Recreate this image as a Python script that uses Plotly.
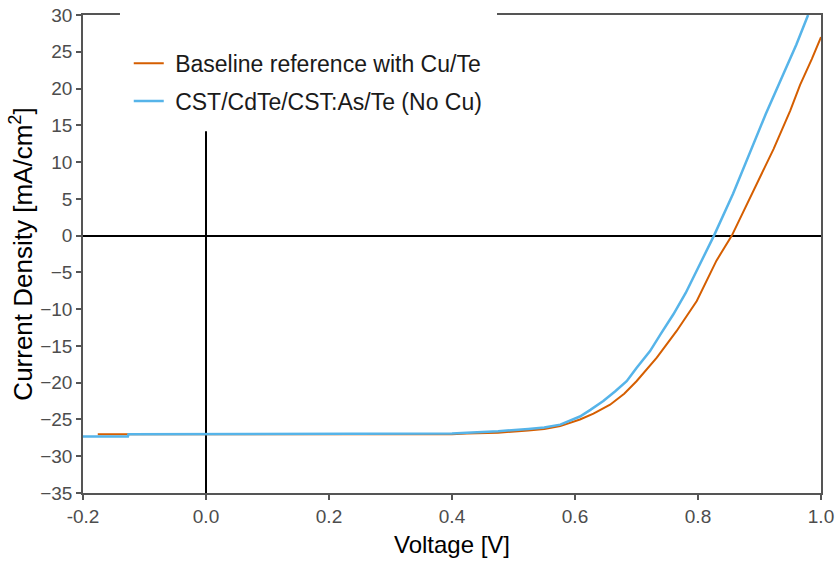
import plotly.graph_objects as go

# Baseline reference with Cu/Te
base_v = [-0.176, -0.13, 0.0, 0.1, 0.2, 0.25, 0.3, 0.4, 0.424, 0.475, 0.524, 0.55, 0.576, 0.590, 0.608,
          0.630, 0.657, 0.680, 0.700, 0.733, 0.765, 0.798, 0.830, 0.855, 0.870, 0.890, 0.923, 0.950,
          0.966, 0.985, 1.0]
base_j = [-27.0, -27.0, -27.0, -27.05, -27.05, -27.1, -27.1, -27.0, -26.9, -26.8, -26.5, -26.3, -25.9, -25.5,
          -25.0, -24.2, -23.0, -21.5, -19.8, -16.6, -13.0, -8.9, -3.4, 0.0, 2.6, 6.1, 11.8, 17.0,
          20.5, 24.0, 27.0]

# CST/CdTe/CST:As/Te (No Cu)
cst_v = [-0.2, -0.127, -0.126, 0.0, 0.1, 0.2, 0.25, 0.3, 0.4, 0.424, 0.475, 0.524, 0.55, 0.576, 0.590,
         0.608, 0.625, 0.646, 0.665, 0.684, 0.700, 0.722, 0.740, 0.760, 0.780, 0.798, 0.826, 0.857,
         0.887, 0.910, 0.939, 0.960, 0.979]
cst_j = [-27.3, -27.3, -27.0, -27.0, -27.0, -27.0, -26.9, -26.9, -26.9, -26.8, -26.6, -26.3, -26.1, -25.7, -25.2,
         -24.6, -23.7, -22.5, -21.2, -19.8, -18.0, -15.7, -13.3, -10.7, -7.8, -4.8, 0.0, 5.7,
         11.8, 16.5, 22.0, 26.0, 30.0]

x_ticks = [-0.2, 0.0, 0.2, 0.4, 0.6, 0.8, 1.0]
x_labels = ["-0.2", "0.0", "0.2", "0.4", "0.6", "0.8", "1.0"]
y_ticks = [-35, -30, -25, -20, -15, -10, -5, 0, 5, 10, 15, 20, 25, 30]

FONT = "Liberation Sans, Arial, sans-serif"
AX = "#555555"
NB = "\u00a0"

fig = go.Figure()
fig.add_trace(go.Scatter(x=base_v, y=base_j, mode="lines", name=NB + "Baseline reference with Cu/Te",
                         line=dict(color="#D55E00", width=2), legendgroup="a"))
fig.add_trace(go.Scatter(x=cst_v, y=cst_j, mode="lines", name=NB + "CST/CdTe/CST:As/Te (No Cu)",
                         line=dict(color="#56B4E9", width=2.5), legendgroup="b"))

# white patch behind the legend (covers frame/zero line like the reference)
fig.add_shape(type="rect", xref="paper", yref="paper", x0=0.0501, x1=0.561, y0=0.757, y1=1.05,
              fillcolor="white", line=dict(width=0), layer="above")

fig.update_layout(
    width=835, height=565,
    margin=dict(l=83, r=14, t=15, b=72, autoexpand=False),
    paper_bgcolor="white", plot_bgcolor="white",
    font=dict(family=FONT, color="#4D4D4D"),
    showlegend=True,
    legend=dict(x=0.062, y=0.944, xanchor="left", yanchor="top", bgcolor="rgba(0,0,0,0)",
                font=dict(size=23, color="#1a1a1a"), traceorder="grouped", tracegroupgap=5,
                itemwidth=30),
    xaxis=dict(range=[-0.2, 1.0], tickvals=x_ticks, ticktext=x_labels, showgrid=False,
               showline=True, linecolor=AX, linewidth=1.5, mirror=True, automargin=False,
               ticks="outside", ticklen=5, tickcolor=AX, tickwidth=1.5,
               tickfont=dict(size=19, color="#4D4D4D"),
               zeroline=True, zerolinecolor="black", zerolinewidth=1.5,
               title=dict(text="Voltage [V]", font=dict(size=24, color="black"), standoff=11)),
    yaxis=dict(range=[-35, 30], tickvals=y_ticks, showgrid=False,
               showline=True, linecolor=AX, linewidth=1.5, mirror=True, automargin=False,
               ticks="outside", ticklen=5, tickcolor=AX, tickwidth=1.5,
               tickfont=dict(size=19, color="#4D4D4D"),
               zeroline=True, zerolinecolor="black", zerolinewidth=1.5,
               title=dict(text="Current Density [mA/cm<sup>2</sup>]", font=dict(size=26, color="black"),
                          standoff=0)),
)

fig.write_html("out.html")
